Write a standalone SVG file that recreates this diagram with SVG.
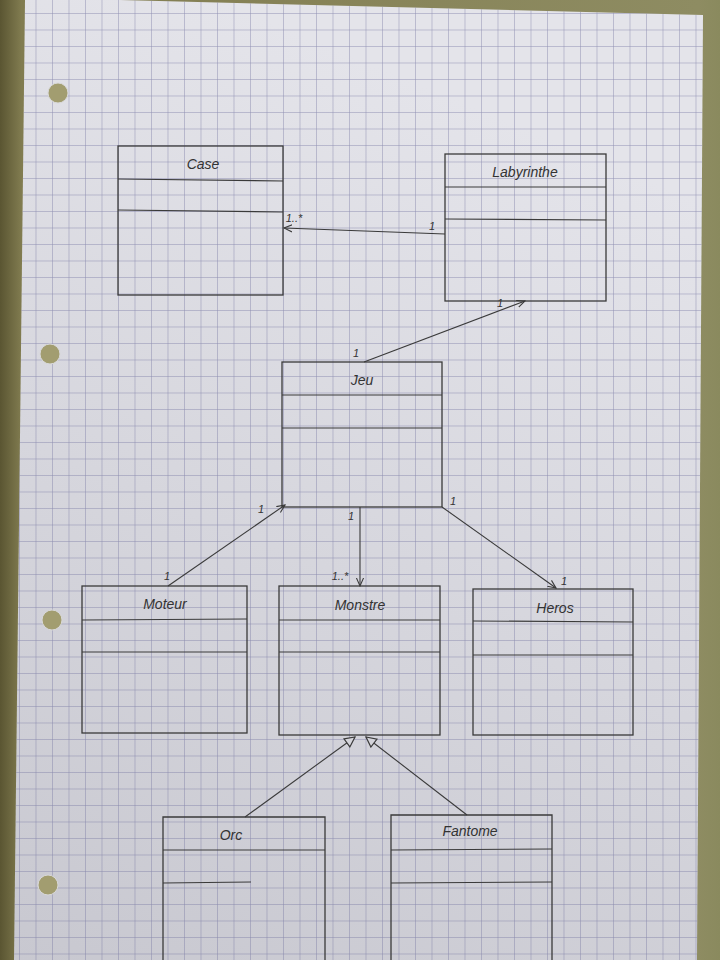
<svg xmlns="http://www.w3.org/2000/svg" width="720" height="960" viewBox="0 0 720 960">
<defs>
<style>
.box{fill:none;stroke:#3a3a3a;stroke-width:1.3}
.sep{stroke:#3a3a3a;stroke-width:1.2}
.name{font-family:"Liberation Sans",sans-serif;font-size:14px;fill:#333;text-anchor:middle;font-style:italic}
.mult{font-family:"Liberation Sans",sans-serif;font-size:11px;fill:#333;text-anchor:middle;font-style:italic}
.edge{stroke:#3a3a3a;stroke-width:1.1;fill:none}
</style>
<pattern id="grid" x="118" y="145" width="16.5" height="16.5" patternUnits="userSpaceOnUse">
<path d="M0 0H16.5M0 0V16.5" stroke="#6c6c9c" stroke-width="1" fill="none"/>
</pattern>
<linearGradient id="paper" x1="0.3" y1="0" x2="0" y2="1">
<stop offset="0" stop-color="#e4e4ea"/>
<stop offset="1" stop-color="#c8c8d0"/>
</linearGradient>
<linearGradient id="bg" x1="0" y1="0" x2="1" y2="0">
<stop offset="0" stop-color="#5a5532"/>
<stop offset="0.03" stop-color="#817c50"/>
<stop offset="0.97" stop-color="#8e8c62"/>
<stop offset="1" stop-color="#8a8a5e"/>
</linearGradient>
<marker id="open" viewBox="0 0 10 10" refX="9" refY="5" markerWidth="9" markerHeight="9" orient="auto" markerUnits="userSpaceOnUse">
<path d="M0 1L9 5L0 9" fill="none" stroke="#3a3a3a" stroke-width="1.2"/>
</marker>
<marker id="tri" viewBox="0 0 12 12" refX="11" refY="6" markerWidth="12" markerHeight="12" orient="auto" markerUnits="userSpaceOnUse">
<path d="M1 1L11 6L1 11Z" fill="#d4d4da" stroke="#3a3a3a" stroke-width="1.2"/>
</marker>
</defs>
<rect width="720" height="960" fill="url(#bg)"/>
<polygon points="25,0 120,0 703,15 697,960 14,960" fill="url(#paper)"/>
<polygon points="25,0 120,0 703,15 697,960 14,960" fill="url(#grid)" opacity="0.7"/>
<g fill="#a29d70" stroke="#d8d8d8" stroke-width="1">
<circle cx="58" cy="93" r="10"/>
<circle cx="50" cy="354" r="10"/>
<circle cx="52" cy="620" r="10"/>
<circle cx="48" cy="885" r="10"/>
</g>
<g id="connectors">
<line class="edge" x1="445" y1="234" x2="284" y2="228" marker-end="url(#open)"/>
<text class="mult" x="294" y="222">1..*</text>
<text class="mult" x="432" y="230">1</text>
<line class="edge" x1="364" y1="362" x2="525" y2="301" marker-end="url(#open)"/>
<text class="mult" x="356" y="357">1</text>
<text class="mult" x="500" y="307">1</text>
<line class="edge" x1="168" y1="586" x2="285" y2="505" marker-end="url(#open)"/>
<text class="mult" x="261" y="513">1</text>
<text class="mult" x="167" y="580">1</text>
<line class="edge" x1="360" y1="507" x2="360" y2="586" marker-end="url(#open)"/>
<text class="mult" x="351" y="520">1</text>
<text class="mult" x="340" y="580">1..*</text>
<line class="edge" x1="442" y1="507" x2="556" y2="588" marker-end="url(#open)"/>
<text class="mult" x="453" y="505">1</text>
<text class="mult" x="564" y="585">1</text>
<line class="edge" x1="245" y1="817" x2="355" y2="737" marker-end="url(#tri)"/>
<line class="edge" x1="467" y1="815" x2="366" y2="737" marker-end="url(#tri)"/>
</g>
<g id="Case">
<rect class="box" x="118" y="146" width="165" height="149"/>
<line class="sep" x1="118" y1="179" x2="283" y2="181"/>
<line class="sep" x1="118" y1="210" x2="283" y2="212"/>
<text class="name" x="203" y="169">Case</text>
</g>
<g id="Labyrinthe">
<rect class="box" x="445" y="154" width="161" height="147"/>
<line class="sep" x1="445" y1="187" x2="606" y2="187"/>
<line class="sep" x1="445" y1="219" x2="606" y2="220"/>
<text class="name" x="525" y="177">Labyrinthe</text>
</g>
<g id="Jeu">
<rect class="box" x="282" y="362" width="160" height="145"/>
<line class="sep" x1="282" y1="395" x2="442" y2="395"/>
<line class="sep" x1="282" y1="428" x2="442" y2="428"/>
<text class="name" x="362" y="385">Jeu</text>
</g>
<g id="Moteur">
<rect class="box" x="82" y="586" width="165" height="147"/>
<line class="sep" x1="82" y1="620" x2="247" y2="619"/>
<line class="sep" x1="82" y1="652" x2="247" y2="652"/>
<text class="name" x="165" y="609">Moteur</text>
</g>
<g id="Monstre">
<rect class="box" x="279" y="586" width="161" height="149"/>
<line class="sep" x1="279" y1="620" x2="440" y2="620"/>
<line class="sep" x1="279" y1="652" x2="440" y2="652"/>
<text class="name" x="360" y="610">Monstre</text>
</g>
<g id="Heros">
<rect class="box" x="473" y="589" width="160" height="146"/>
<line class="sep" x1="473" y1="621" x2="633" y2="622"/>
<line class="sep" x1="473" y1="655" x2="633" y2="655"/>
<text class="name" x="555" y="613">Heros</text>
</g>
<g id="Orc">
<path class="box" d="M163 965V817H325V965"/>
<line class="sep" x1="163" y1="850" x2="325" y2="850"/>
<line class="sep" x1="163" y1="883" x2="251" y2="882"/>
<text class="name" x="231" y="840">Orc</text>
</g>
<g id="Fantome">
<path class="box" d="M391 965V815H552V965"/>
<line class="sep" x1="391" y1="850" x2="552" y2="849"/>
<line class="sep" x1="391" y1="883" x2="552" y2="882"/>
<text class="name" x="470" y="836">Fantome</text>
</g>
</svg>
